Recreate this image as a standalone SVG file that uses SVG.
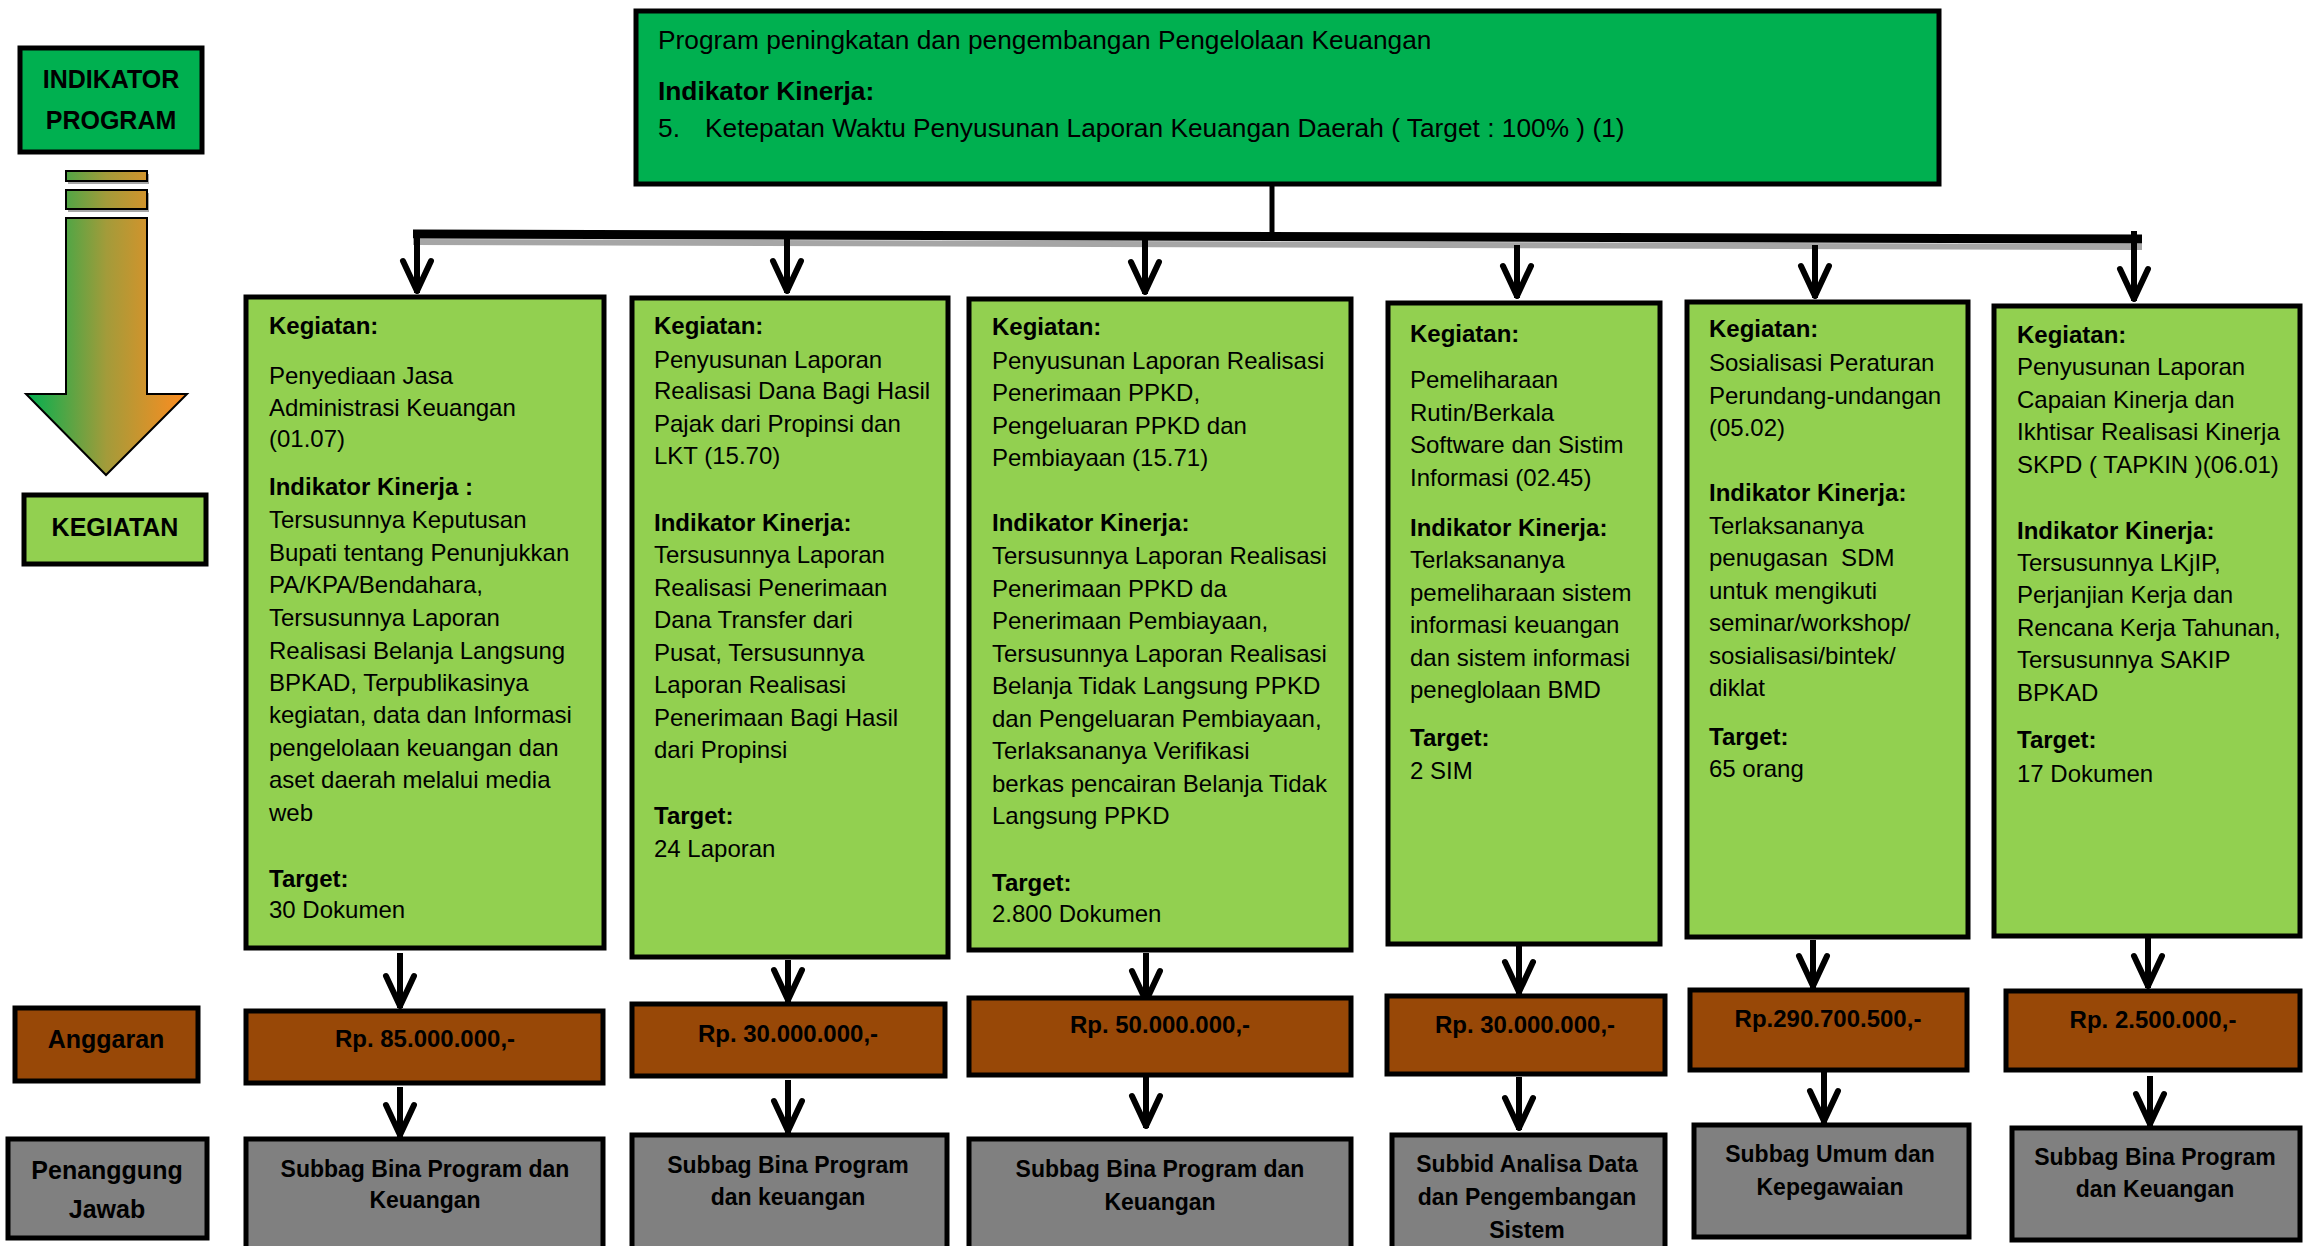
<svg xmlns="http://www.w3.org/2000/svg" width="2307" height="1246" viewBox="0 0 2307 1246">
<style>
.bx{stroke:#000;stroke-width:5}
.g1{fill:#00B050}
.g2{fill:#92D050}
.br{fill:#984807}
.gr{fill:#808080}
text{font-family:"Liberation Sans",Arial,sans-serif;font-size:24px;fill:#000}
.b{font-weight:bold}
.c{text-anchor:middle;font-weight:bold}
.lg{font-size:25px}
.pj{font-size:23px}
.top{font-size:26.3px}
.cn{stroke:#000;stroke-width:6;fill:none;marker-end:url(#ah)}
</style>
<defs>
<linearGradient id="gd" gradientUnits="userSpaceOnUse" x1="26" y1="0" x2="187" y2="0">
<stop offset="0" stop-color="#00B050"/>
<stop offset="0.5" stop-color="#A39B3A"/>
<stop offset="1" stop-color="#FF8C1F"/>
</linearGradient>
<marker id="ah" markerUnits="userSpaceOnUse" markerWidth="50" markerHeight="50" viewBox="-40 -25 50 50" refX="0" refY="0" orient="auto">
<path d="M-32,-14 L-2,0 L-32,14" fill="none" stroke="#000" stroke-width="6" stroke-linecap="round" stroke-linejoin="round"/>
</marker>
</defs>

<g id="legend-indikator-program">
<rect class="bx g1" x="20" y="48" width="182" height="104"/>
<text class="c lg" x="111" y="88">INDIKATOR</text>
<text class="c lg" x="111" y="129">PROGRAM</text>
</g>
<g id="legend-arrow">
<rect x="68" y="174" width="81" height="10" fill="#A6A6A6"/>
<rect x="68" y="193" width="81" height="19" fill="#A6A6A6"/>
<rect x="66" y="171" width="81" height="10" fill="url(#gd)" stroke="#000" stroke-width="2"/>
<rect x="66" y="190" width="81" height="19" fill="url(#gd)" stroke="#000" stroke-width="2"/>
<path d="M66,218 H147 V394 H187 L106,475 L26,394 H66 Z" fill="url(#gd)" stroke="#000" stroke-width="2"/>
</g>
<g id="legend-kegiatan">
<rect class="bx g2" x="24" y="495" width="182" height="69"/>
<text class="c lg" x="115" y="536">KEGIATAN</text>
</g>
<g id="legend-anggaran">
<rect class="bx br" x="15" y="1008" width="183" height="73"/>
<text class="c lg" x="106" y="1048">Anggaran</text>
</g>
<g id="legend-penanggung">
<rect class="bx gr" x="8" y="1139" width="199" height="99"/>
<text class="c lg" x="107" y="1179">Penanggung</text>
<text class="c lg" x="107" y="1218">Jawab</text>
</g>

<g id="program">
<rect class="bx g1" x="636" y="11" width="1303" height="173"/>
<text class="top" x="658" y="49">Program peningkatan dan pengembangan Pengelolaan Keuangan</text>
<text class="top b" x="658" y="100">Indikator Kinerja:</text>
<text class="top" x="658" y="137">5.</text>
<text class="top" x="705" y="137">Ketepatan Waktu Penyusunan Laporan Keuangan Daerah ( Target : 100% ) (1)</text>
</g>

<g id="connectors">
<line x1="1272" y1="186" x2="1272" y2="236" stroke="#000" stroke-width="5"/>
<line x1="413" y1="242" x2="2142" y2="247" stroke="#A6A6A6" stroke-width="6"/>
<line x1="413" y1="234" x2="2142" y2="239" stroke="#000" stroke-width="9"/>
<line class="cn" x1="417" y1="234" x2="417" y2="293"/>
<line class="cn" x1="787" y1="234" x2="787" y2="293"/>
<line class="cn" x1="1145" y1="236" x2="1145" y2="294"/>
<line class="cn" x1="1517" y1="245" x2="1517" y2="298"/>
<line class="cn" x1="1815" y1="245" x2="1815" y2="298"/>
<line class="cn" x1="2134" y1="231" x2="2134" y2="301"/>
<line class="cn" x1="400" y1="953" x2="400" y2="1008"/>
<line class="cn" x1="400" y1="1087" x2="400" y2="1137"/>
<line class="cn" x1="788" y1="960" x2="788" y2="1002"/>
<line class="cn" x1="788" y1="1080" x2="788" y2="1133"/>
<line class="cn" x1="1146" y1="953" x2="1146" y2="1003"/>
<line class="cn" x1="1146" y1="1077" x2="1146" y2="1128"/>
<line class="cn" x1="1519" y1="946" x2="1519" y2="994"/>
<line class="cn" x1="1519" y1="1077" x2="1519" y2="1130"/>
<line class="cn" x1="1813" y1="940" x2="1813" y2="988"/>
<line class="cn" x1="1824" y1="1072" x2="1824" y2="1123"/>
<line class="cn" x1="2148" y1="938" x2="2148" y2="988"/>
<line class="cn" x1="2150" y1="1076" x2="2150" y2="1126"/>
</g>

<g id="kegiatan-1">
<rect class="bx g2" x="246" y="297" width="358" height="651"/>
<text x="269">
<tspan class="b" x="269" y="334">Kegiatan:</tspan>
<tspan x="269" y="384">Penyediaan Jasa</tspan>
<tspan x="269" y="416">Administrasi Keuangan</tspan>
<tspan x="269" y="447">(01.07)</tspan>
<tspan class="b" x="269" y="495">Indikator Kinerja  :</tspan>
<tspan x="269" y="528">Tersusunnya Keputusan</tspan>
<tspan x="269" y="561">Bupati tentang Penunjukkan</tspan>
<tspan x="269" y="593">PA/KPA/Bendahara,</tspan>
<tspan x="269" y="626">Tersusunnya Laporan</tspan>
<tspan x="269" y="659">Realisasi Belanja Langsung</tspan>
<tspan x="269" y="691">BPKAD, Terpublikasinya</tspan>
<tspan x="269" y="723">kegiatan, data dan Informasi</tspan>
<tspan x="269" y="756">pengelolaan keuangan dan</tspan>
<tspan x="269" y="788">aset daerah melalui media</tspan>
<tspan x="269" y="821">web</tspan>
<tspan class="b" x="269" y="887">Target:</tspan>
<tspan x="269" y="918">30 Dokumen</tspan>
</text>
</g>

<g id="kegiatan-2">
<rect class="bx g2" x="632" y="298" width="316" height="659"/>
<text>
<tspan class="b" x="654" y="334">Kegiatan:</tspan>
<tspan x="654" y="368">Penyusunan Laporan</tspan>
<tspan x="654" y="399">Realisasi Dana Bagi Hasil</tspan>
<tspan x="654" y="432">Pajak dari Propinsi dan</tspan>
<tspan x="654" y="464">LKT (15.70)</tspan>
<tspan class="b" x="654" y="531">Indikator Kinerja:</tspan>
<tspan x="654" y="563">Tersusunnya Laporan</tspan>
<tspan x="654" y="596">Realisasi Penerimaan</tspan>
<tspan x="654" y="628">Dana Transfer dari</tspan>
<tspan x="654" y="661">Pusat, Tersusunnya</tspan>
<tspan x="654" y="693">Laporan Realisasi</tspan>
<tspan x="654" y="726">Penerimaan Bagi Hasil</tspan>
<tspan x="654" y="758">dari Propinsi</tspan>
<tspan class="b" x="654" y="824">Target:</tspan>
<tspan x="654" y="857">24 Laporan</tspan>
</text>
</g>

<g id="kegiatan-3">
<rect class="bx g2" x="969" y="299" width="382" height="651"/>
<text>
<tspan class="b" x="992" y="335">Kegiatan:</tspan>
<tspan x="992" y="369">Penyusunan Laporan Realisasi</tspan>
<tspan x="992" y="401">Penerimaan PPKD,</tspan>
<tspan x="992" y="434">Pengeluaran PPKD dan</tspan>
<tspan x="992" y="466">Pembiayaan (15.71)</tspan>
<tspan class="b" x="992" y="531">Indikator Kinerja:</tspan>
<tspan x="992" y="564">Tersusunnya Laporan Realisasi</tspan>
<tspan x="992" y="597">Penerimaan PPKD da</tspan>
<tspan x="992" y="629">Penerimaan Pembiayaan,</tspan>
<tspan x="992" y="662">Tersusunnya Laporan Realisasi</tspan>
<tspan x="992" y="694">Belanja Tidak Langsung PPKD</tspan>
<tspan x="992" y="727">dan Pengeluaran Pembiayaan,</tspan>
<tspan x="992" y="759">Terlaksananya Verifikasi</tspan>
<tspan x="992" y="792">berkas pencairan Belanja Tidak</tspan>
<tspan x="992" y="824">Langsung PPKD</tspan>
<tspan class="b" x="992" y="891">Target:</tspan>
<tspan x="992" y="922">2.800 Dokumen</tspan>
</text>
</g>

<g id="kegiatan-4">
<rect class="bx g2" x="1388" y="303" width="272" height="641"/>
<text>
<tspan class="b" x="1410" y="342">Kegiatan:</tspan>
<tspan x="1410" y="388">Pemeliharaan</tspan>
<tspan x="1410" y="421">Rutin/Berkala</tspan>
<tspan x="1410" y="453">Software dan Sistim</tspan>
<tspan x="1410" y="486">Informasi (02.45)</tspan>
<tspan class="b" x="1410" y="536">Indikator Kinerja:</tspan>
<tspan x="1410" y="568">Terlaksananya</tspan>
<tspan x="1410" y="601">pemeliharaan sistem</tspan>
<tspan x="1410" y="633">informasi keuangan</tspan>
<tspan x="1410" y="666">dan sistem informasi</tspan>
<tspan x="1410" y="698">peneglolaan BMD</tspan>
<tspan class="b" x="1410" y="746">Target:</tspan>
<tspan x="1410" y="779">2 SIM</tspan>
</text>
</g>

<g id="kegiatan-5">
<rect class="bx g2" x="1687" y="302" width="281" height="635"/>
<text>
<tspan class="b" x="1709" y="337">Kegiatan:</tspan>
<tspan x="1709" y="371">Sosialisasi Peraturan</tspan>
<tspan x="1709" y="404">Perundang-undangan</tspan>
<tspan x="1709" y="436">(05.02)</tspan>
<tspan class="b" x="1709" y="501">Indikator Kinerja:</tspan>
<tspan x="1709" y="534">Terlaksananya</tspan>
<tspan x="1709" y="566">penugasan&#160; SDM</tspan>
<tspan x="1709" y="599">untuk mengikuti</tspan>
<tspan x="1709" y="631">seminar/workshop/</tspan>
<tspan x="1709" y="664">sosialisasi/bintek/</tspan>
<tspan x="1709" y="696">diklat</tspan>
<tspan class="b" x="1709" y="745">Target:</tspan>
<tspan x="1709" y="777">65 orang</tspan>
</text>
</g>

<g id="kegiatan-6">
<rect class="bx g2" x="1994" y="306" width="306" height="630"/>
<text>
<tspan class="b" x="2017" y="343">Kegiatan:</tspan>
<tspan x="2017" y="375">Penyusunan Laporan</tspan>
<tspan x="2017" y="408">Capaian Kinerja dan</tspan>
<tspan x="2017" y="440">Ikhtisar Realisasi Kinerja</tspan>
<tspan x="2017" y="473">SKPD ( TAPKIN )(06.01)</tspan>
<tspan class="b" x="2017" y="539">Indikator Kinerja:</tspan>
<tspan x="2017" y="571">Tersusunnya LKjIP,</tspan>
<tspan x="2017" y="603">Perjanjian Kerja dan</tspan>
<tspan x="2017" y="636">Rencana Kerja Tahunan,</tspan>
<tspan x="2017" y="668">Tersusunnya SAKIP</tspan>
<tspan x="2017" y="701">BPKAD</tspan>
<tspan class="b" x="2017" y="748">Target:</tspan>
<tspan x="2017" y="782">17 Dokumen</tspan>
</text>
</g>

<g id="anggaran-1"><rect class="bx br" x="246" y="1011" width="357" height="72"/><text class="c" x="425" y="1047">Rp. 85.000.000,-</text></g>
<g id="anggaran-2"><rect class="bx br" x="632" y="1004" width="313" height="72"/><text class="c" x="788" y="1042">Rp. 30.000.000,-</text></g>
<g id="anggaran-3"><rect class="bx br" x="969" y="998" width="382" height="77"/><text class="c" x="1160" y="1033">Rp. 50.000.000,-</text></g>
<g id="anggaran-4"><rect class="bx br" x="1387" y="996" width="278" height="78"/><text class="c" x="1525" y="1033">Rp. 30.000.000,-</text></g>
<g id="anggaran-5"><rect class="bx br" x="1690" y="990" width="277" height="80"/><text class="c" x="1828" y="1027">Rp.290.700.500,-</text></g>
<g id="anggaran-6"><rect class="bx br" x="2006" y="991" width="294" height="79"/><text class="c" x="2153" y="1028">Rp. 2.500.000,-</text></g>

<g id="pj-1"><rect class="bx gr" x="246" y="1139" width="357" height="120"/><text class="c pj" x="425" y="1177">Subbag Bina Program dan</text><text class="c pj" x="425" y="1208">Keuangan</text></g>
<g id="pj-2"><rect class="bx gr" x="632" y="1135" width="315" height="120"/><text class="c pj" x="788" y="1173">Subbag Bina Program</text><text class="c pj" x="788" y="1205">dan keuangan</text></g>
<g id="pj-3"><rect class="bx gr" x="969" y="1139" width="382" height="120"/><text class="c pj" x="1160" y="1177">Subbag Bina Program dan</text><text class="c pj" x="1160" y="1210">Keuangan</text></g>
<g id="pj-4"><rect class="bx gr" x="1392" y="1135" width="273" height="120"/><text class="c pj" x="1527" y="1172">Subbid Analisa Data</text><text class="c pj" x="1527" y="1205">dan Pengembangan</text><text class="c pj" x="1527" y="1238">Sistem</text></g>
<g id="pj-5"><rect class="bx gr" x="1694" y="1125" width="275" height="112"/><text class="c pj" x="1830" y="1162">Subbag Umum dan</text><text class="c pj" x="1830" y="1195">Kepegawaian</text></g>
<g id="pj-6"><rect class="bx gr" x="2012" y="1128" width="288" height="112"/><text class="c pj" x="2155" y="1165">Subbag Bina Program</text><text class="c pj" x="2155" y="1197">dan Keuangan</text></g>
</svg>
